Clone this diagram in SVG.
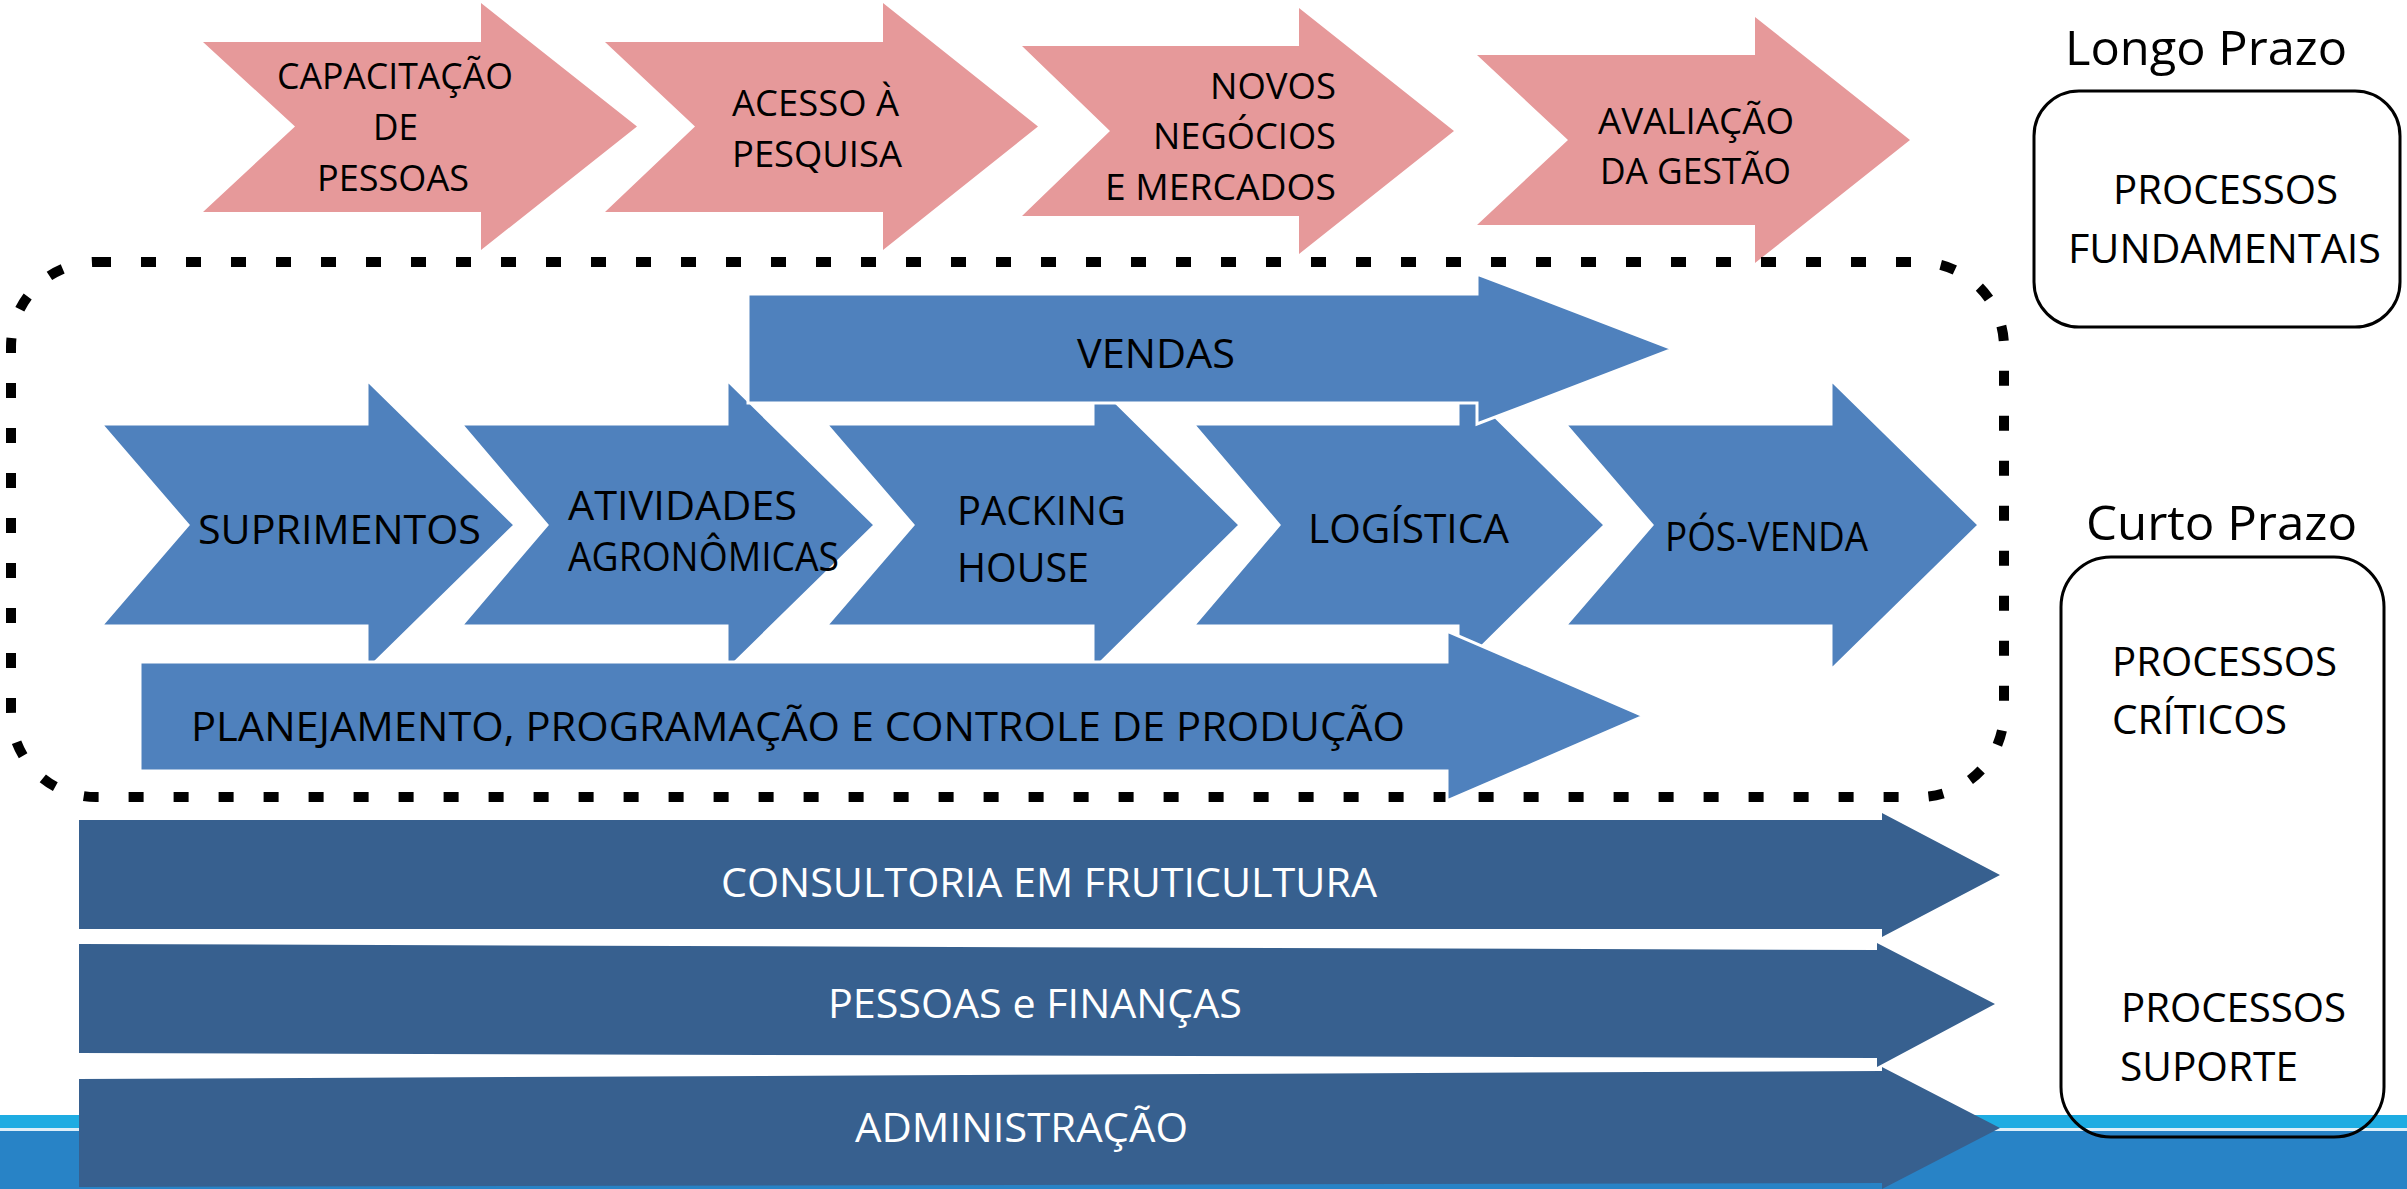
<svg xmlns="http://www.w3.org/2000/svg" width="2407" height="1189" viewBox="0 0 2407 1189">
<style>
.pk{fill:#E6999A}
.bl{fill:#4F81BD;stroke:#FFFFFF;stroke-width:3}
.dk{fill:#37608F}
.t{font-family:"Open Sans","Liberation Sans",sans-serif;fill:#000}
.tp{font-size:36px}
.tb{font-size:40px}
.tw{font-family:"Open Sans","Liberation Sans",sans-serif;font-size:40px;fill:#FFFFFF}
.th{font-size:48px}
.box{fill:none;stroke:#000;stroke-width:3}
</style>
<rect width="2407" height="1189" fill="#FFFFFF"/>
<g id="background">
<rect x="0" y="1115" width="2407" height="13" fill="#1EACE2"/>
<rect x="0" y="1128" width="2407" height="3" fill="#DDEFF9"/>
<rect x="0" y="1131" width="2407" height="58" fill="#2883C6"/>
</g>
<g id="connectors"/>
<g id="fundamentais-arrows">
<g id="capacitacao"><polygon class="pk" points="203,42 481,42 481,3 637,126.5 481,250 481,212 203,212 295,126.5"/>
<text class="t tp" x="277" y="89" textLength="236" lengthAdjust="spacingAndGlyphs">CAPACITAÇÃO</text>
<text class="t tp" x="373" y="140" textLength="45" lengthAdjust="spacingAndGlyphs">DE</text>
<text class="t tp" x="317" y="191" textLength="152" lengthAdjust="spacingAndGlyphs">PESSOAS</text></g>
<g id="acesso"><polygon class="pk" points="605,42 883,42 883,3 1038,126.5 883,250 883,212 605,212 695,126.5"/>
<text class="t tp" x="732" y="116" textLength="167" lengthAdjust="spacingAndGlyphs">ACESSO À</text>
<text class="t tp" x="732" y="167" textLength="170" lengthAdjust="spacingAndGlyphs">PESQUISA</text></g>
<g id="novos"><polygon class="pk" points="1022,46 1299,46 1299,8 1454,131 1299,254 1299,216 1022,216 1110,131"/>
<text class="t tp" x="1210" y="99" textLength="126" lengthAdjust="spacingAndGlyphs">NOVOS</text>
<text class="t tp" x="1153" y="149" textLength="183" lengthAdjust="spacingAndGlyphs">NEGÓCIOS</text>
<text class="t tp" x="1105" y="200" textLength="231" lengthAdjust="spacingAndGlyphs">E MERCADOS</text></g>
<g id="avaliacao"><polygon class="pk" points="1477,55 1755,55 1755,17 1910,140 1755,263 1755,225 1477,225 1568,140"/>
<text class="t tp" x="1598" y="134" textLength="196" lengthAdjust="spacingAndGlyphs">AVALIAÇÃO</text>
<text class="t tp" x="1600" y="184" textLength="191" lengthAdjust="spacingAndGlyphs">DA GESTÃO</text></g>
</g>
<g id="dotted-frame">
<rect x="11" y="262" width="1993" height="535" rx="85" ry="85" fill="none" stroke="#000" stroke-width="10" stroke-dasharray="15 30"/>
</g>
<g id="critical-arrows">
<g id="suprimentos"><polygon class="bl" points="101,424 367,424 367,380 515,525 367,670 367,626 101,626 188,525"/>
<text class="t tb" x="198" y="544" textLength="283" lengthAdjust="spacingAndGlyphs">SUPRIMENTOS</text></g>
<g id="atividades"><polygon class="bl" points="461,424 727,424 727,380 875,525 727,670 727,626 461,626 547,525"/>
<text class="t tb" x="568" y="520" textLength="229" lengthAdjust="spacingAndGlyphs">ATIVIDADES</text>
<text class="t tb" x="568" y="571" textLength="271" lengthAdjust="spacingAndGlyphs">AGRONÔMICAS</text></g>
<g id="packing"><polygon class="bl" points="826,424 1093,424 1093,380 1240,525 1093,670 1093,626 826,626 913,525"/>
<text class="t tb" x="957" y="525" textLength="169" lengthAdjust="spacingAndGlyphs">PACKING</text>
<text class="t tb" x="957" y="582" textLength="132" lengthAdjust="spacingAndGlyphs">HOUSE</text></g>
<g id="logistica"><polygon class="bl" points="1193,424 1458,424 1458,380 1605,525 1458,670 1458,626 1193,626 1279,525"/>
<text class="t tb" x="1308" y="543" textLength="201" lengthAdjust="spacingAndGlyphs">LOGÍSTICA</text></g>
<g id="pos-venda"><polygon class="bl" points="1565,424 1831,424 1831,380 1979,525 1831,670 1831,626 1565,626 1652,525"/>
<text class="t tb" x="1665" y="551" textLength="203" lengthAdjust="spacingAndGlyphs">PÓS-VENDA</text></g>
<g id="vendas"><polygon class="bl" points="748,294 1477,294 1477,274 1673,349 1477,424 1477,403 748,403"/>
<text class="t tb" x="1077" y="368" textLength="158" lengthAdjust="spacingAndGlyphs">VENDAS</text></g>
<g id="planejamento"><polygon class="bl" points="140,662 1447,662 1447,631 1644,716 1447,801 1447,771 140,771"/>
<text class="t tb" x="191" y="741" textLength="1214" lengthAdjust="spacingAndGlyphs">PLANEJAMENTO, PROGRAMAÇÃO E CONTROLE DE PRODUÇÃO</text></g>
</g>
<g id="support-arrows">
<g id="consultoria"><polygon class="dk" points="79,820 1882,820 1882,813 2000,875 1882,937 1882,929 79,929"/>
<text class="tw" x="721" y="897" textLength="656" lengthAdjust="spacingAndGlyphs">CONSULTORIA EM FRUTICULTURA</text></g>
<g id="pessoas-financas"><polygon class="dk" points="79,944 1877,950 1877,943 1995,1004 1877,1067 1877,1058 79,1053"/>
<text class="tw" x="828" y="1018" textLength="414" lengthAdjust="spacingAndGlyphs">PESSOAS e FINANÇAS</text></g>
<g id="administracao"><polygon class="dk" points="79,1079 1882,1071 1882,1067 2000,1128 1882,1189 1882,1183 79,1187"/>
<text class="tw" x="855" y="1142" textLength="333" lengthAdjust="spacingAndGlyphs">ADMINISTRAÇÃO</text></g>
</g>
<g id="longo-prazo">
<text class="t th" x="2065" y="65" textLength="282" lengthAdjust="spacingAndGlyphs">Longo Prazo</text>
<rect class="box" x="2034" y="91" width="366" height="236" rx="45" ry="45"/>
<text class="t tb" x="2113" y="204" textLength="225" lengthAdjust="spacingAndGlyphs">PROCESSOS</text>
<text class="t tb" x="2068" y="263" textLength="313" lengthAdjust="spacingAndGlyphs">FUNDAMENTAIS</text>
</g>
<g id="curto-prazo">
<text class="t th" x="2086" y="540" textLength="271" lengthAdjust="spacingAndGlyphs">Curto Prazo</text>
<rect class="box" x="2061" y="557" width="323" height="580" rx="50" ry="50"/>
<text class="t tb" x="2112" y="676" textLength="225" lengthAdjust="spacingAndGlyphs">PROCESSOS</text>
<text class="t tb" x="2112" y="734" textLength="175" lengthAdjust="spacingAndGlyphs">CRÍTICOS</text>
<text class="t tb" x="2121" y="1022" textLength="225" lengthAdjust="spacingAndGlyphs">PROCESSOS</text>
<text class="t tb" x="2120" y="1081" textLength="178" lengthAdjust="spacingAndGlyphs">SUPORTE</text>
</g>
</svg>
